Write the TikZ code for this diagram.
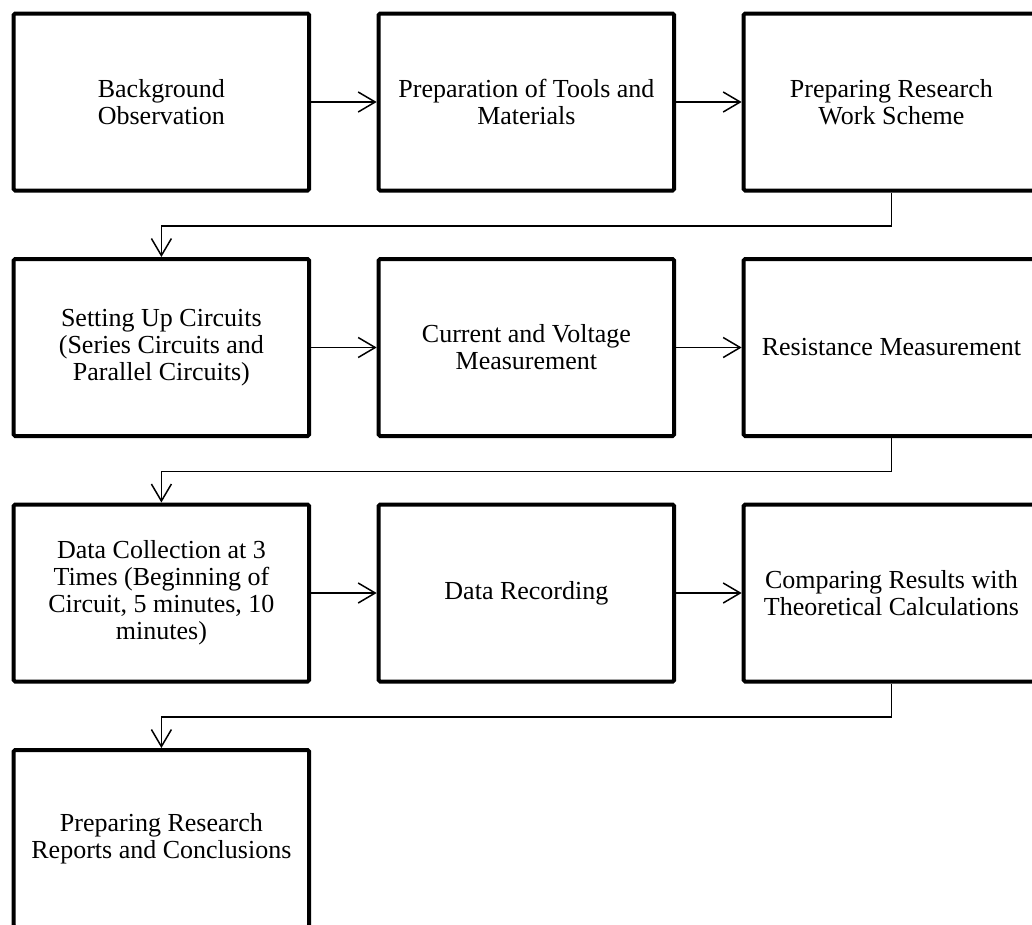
\documentclass[tikz,border=0pt]{standalone}
\usepackage{fontspec}
\setmainfont{Liberation Serif}
\usetikzlibrary{arrows.meta}
\begin{document}
\begin{tikzpicture}[x=1pt,y=1pt,
  stepbox/.style={draw, line width=4pt, rounded corners=1.5pt, minimum width=295.5pt, minimum height=177pt, inner sep=0pt, align=center, font=\fontsize{26}{27}\selectfont},
  conn/.style={line width=1.5pt, -{Straight Barb[length=17pt,width=20pt,line width=1.5pt]}}
]
\useasboundingbox (0,0) rectangle (1032,-924);
\clip (0,0) rectangle (1032,-924);
\def\ca{161.4}\def\cb{526.4}\def\cc{891.4}
\def\ra{-102}\def\rb{-347.5}\def\rc{-593}\def\rd{-838.5}
\node[stepbox] (a1) at (\ca,\ra) {Background\\Observation};
\node[stepbox] (a2) at (\cb,\ra) {Preparation of Tools and\\Materials};
\node[stepbox] (a3) at (\cc,\ra) {Preparing Research\\Work Scheme};
\node[stepbox] (b1) at (\ca,\rb) {Setting Up Circuits\\(Series Circuits and\\Parallel Circuits)};
\node[stepbox] (b2) at (\cb,\rb) {Current and Voltage\\Measurement};
\node[stepbox] (b3) at (\cc,\rb) {Resistance Measurement};
\node[stepbox] (c1) at (\ca,\rc) {Data Collection at 3\\Times (Beginning of\\Circuit, 5 minutes, 10\\minutes)};
\node[stepbox] (c2) at (\cb,\rc) {Data Recording};
\node[stepbox] (c3) at (\cc,\rc) {Comparing Results with\\Theoretical Calculations};
\node[stepbox] (d1) at (\ca,\rd) {Preparing Research\\Reports and Conclusions};
\draw[conn] (a1.east) -- (a2.west);
\draw[conn] (a2.east) -- (a3.west);
\draw[conn] (b1.east) -- (b2.west);
\draw[conn] (b2.east) -- (b3.west);
\draw[conn] (c1.east) -- (c2.west);
\draw[conn] (c2.east) -- (c3.west);
\draw[conn] (a3.south) -- ++(0,-33.5) -| (b1.north);
\draw[conn] (b3.south) -- ++(0,-33.5) -| (c1.north);
\draw[conn] (c3.south) -- ++(0,-33.5) -| (d1.north);
\end{tikzpicture}
\end{document}
